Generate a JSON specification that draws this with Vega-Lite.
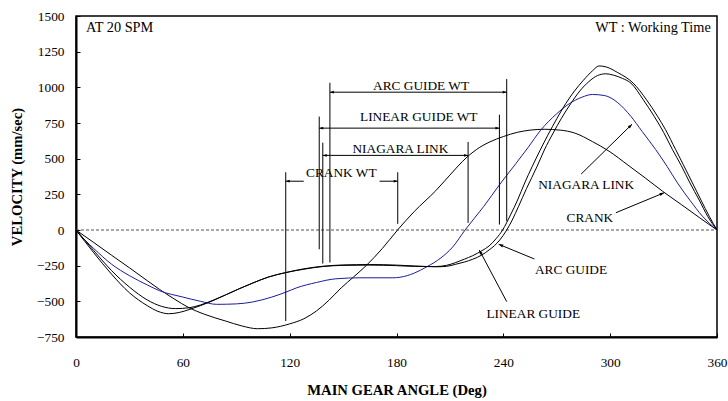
{
  "$schema": "https://vega.github.io/schema/vega-lite/v6.json",
  "width": 641,
  "height": 321,
  "autosize": "none",
  "padding": {"left": 76, "top": 16, "right": 11, "bottom": 64},
  "background": "white",
  "config": {
    "view": {"stroke": "black", "strokeWidth": 1.5},
    "font": "Liberation Serif"
  },
  "datasets": {
    "curves": [
      {"mech":"CRANK","deg":0,"v":0},{"mech":"CRANK","deg":10,"v":-88},{"mech":"CRANK","deg":20,"v":-177},{"mech":"CRANK","deg":30,"v":-265},{"mech":"CRANK","deg":40,"v":-355},{"mech":"CRANK","deg":47,"v":-417},{"mech":"CRANK","deg":55,"v":-482},{"mech":"CRANK","deg":63.5,"v":-545},{"mech":"CRANK","deg":72,"v":-590},{"mech":"CRANK","deg":84,"v":-638},{"mech":"CRANK","deg":93,"v":-672},{"mech":"CRANK","deg":102,"v":-692},{"mech":"CRANK","deg":110,"v":-686},{"mech":"CRANK","deg":120,"v":-658},{"mech":"CRANK","deg":128,"v":-622},{"mech":"CRANK","deg":135,"v":-568},{"mech":"CRANK","deg":142,"v":-493},{"mech":"CRANK","deg":149,"v":-405},{"mech":"CRANK","deg":156,"v":-328},{"mech":"CRANK","deg":163,"v":-249},{"mech":"CRANK","deg":172,"v":-130},{"mech":"CRANK","deg":180.6,"v":0},{"mech":"CRANK","deg":190,"v":130},{"mech":"CRANK","deg":202,"v":275},{"mech":"CRANK","deg":210,"v":385},{"mech":"CRANK","deg":217,"v":480},{"mech":"CRANK","deg":225,"v":565},{"mech":"CRANK","deg":232,"v":615},{"mech":"CRANK","deg":240,"v":655},{"mech":"CRANK","deg":248,"v":685},{"mech":"CRANK","deg":255,"v":700},{"mech":"CRANK","deg":263,"v":706},{"mech":"CRANK","deg":272,"v":700},{"mech":"CRANK","deg":280,"v":680},{"mech":"CRANK","deg":290,"v":620},{"mech":"CRANK","deg":299.4,"v":552},{"mech":"CRANK","deg":310,"v":455},{"mech":"CRANK","deg":320,"v":362},{"mech":"CRANK","deg":329.4,"v":272},{"mech":"CRANK","deg":340,"v":178},{"mech":"CRANK","deg":350,"v":88},{"mech":"CRANK","deg":360,"v":0},
      {"mech":"NIAGARA LINK","deg":0,"v":0},{"mech":"NIAGARA LINK","deg":5,"v":-70},{"mech":"NIAGARA LINK","deg":10,"v":-130},{"mech":"NIAGARA LINK","deg":20,"v":-240},{"mech":"NIAGARA LINK","deg":30,"v":-320},{"mech":"NIAGARA LINK","deg":40,"v":-385},{"mech":"NIAGARA LINK","deg":47,"v":-426},{"mech":"NIAGARA LINK","deg":60,"v":-470},{"mech":"NIAGARA LINK","deg":70,"v":-500},{"mech":"NIAGARA LINK","deg":79,"v":-521},{"mech":"NIAGARA LINK","deg":90,"v":-518},{"mech":"NIAGARA LINK","deg":99,"v":-505},{"mech":"NIAGARA LINK","deg":110,"v":-470},{"mech":"NIAGARA LINK","deg":118,"v":-435},{"mech":"NIAGARA LINK","deg":124,"v":-405},{"mech":"NIAGARA LINK","deg":135,"v":-368},{"mech":"NIAGARA LINK","deg":146,"v":-342},{"mech":"NIAGARA LINK","deg":160,"v":-335},{"mech":"NIAGARA LINK","deg":178,"v":-335},{"mech":"NIAGARA LINK","deg":186,"v":-320},{"mech":"NIAGARA LINK","deg":190,"v":-302},{"mech":"NIAGARA LINK","deg":197,"v":-258},{"mech":"NIAGARA LINK","deg":205,"v":-195},{"mech":"NIAGARA LINK","deg":211.5,"v":-120},{"mech":"NIAGARA LINK","deg":218.5,"v":0},{"mech":"NIAGARA LINK","deg":229,"v":165},{"mech":"NIAGARA LINK","deg":238,"v":320},{"mech":"NIAGARA LINK","deg":247,"v":465},{"mech":"NIAGARA LINK","deg":254,"v":580},{"mech":"NIAGARA LINK","deg":261,"v":700},{"mech":"NIAGARA LINK","deg":270,"v":815},{"mech":"NIAGARA LINK","deg":277,"v":885},{"mech":"NIAGARA LINK","deg":284,"v":930},{"mech":"NIAGARA LINK","deg":290,"v":950},{"mech":"NIAGARA LINK","deg":297,"v":942},{"mech":"NIAGARA LINK","deg":304,"v":895},{"mech":"NIAGARA LINK","deg":311.6,"v":797},{"mech":"NIAGARA LINK","deg":318,"v":690},{"mech":"NIAGARA LINK","deg":325.6,"v":563},{"mech":"NIAGARA LINK","deg":332,"v":445},{"mech":"NIAGARA LINK","deg":337.8,"v":330},{"mech":"NIAGARA LINK","deg":345,"v":205},{"mech":"NIAGARA LINK","deg":351.8,"v":97},{"mech":"NIAGARA LINK","deg":360,"v":0},
      {"mech":"LINEAR GUIDE","deg":0,"v":0},{"mech":"LINEAR GUIDE","deg":10,"v":-160},{"mech":"LINEAR GUIDE","deg":20,"v":-310},{"mech":"LINEAR GUIDE","deg":30,"v":-440},{"mech":"LINEAR GUIDE","deg":40,"v":-530},{"mech":"LINEAR GUIDE","deg":46,"v":-570},{"mech":"LINEAR GUIDE","deg":52,"v":-587},{"mech":"LINEAR GUIDE","deg":58,"v":-578},{"mech":"LINEAR GUIDE","deg":63.5,"v":-558},{"mech":"LINEAR GUIDE","deg":70,"v":-530},{"mech":"LINEAR GUIDE","deg":77,"v":-495},{"mech":"LINEAR GUIDE","deg":84,"v":-455},{"mech":"LINEAR GUIDE","deg":92,"v":-410},{"mech":"LINEAR GUIDE","deg":100,"v":-368},{"mech":"LINEAR GUIDE","deg":108,"v":-330},{"mech":"LINEAR GUIDE","deg":118,"v":-298},{"mech":"LINEAR GUIDE","deg":128,"v":-275},{"mech":"LINEAR GUIDE","deg":138.7,"v":-256},{"mech":"LINEAR GUIDE","deg":150,"v":-248},{"mech":"LINEAR GUIDE","deg":165,"v":-246},{"mech":"LINEAR GUIDE","deg":180,"v":-250},{"mech":"LINEAR GUIDE","deg":190,"v":-255},{"mech":"LINEAR GUIDE","deg":202,"v":-256},{"mech":"LINEAR GUIDE","deg":208,"v":-248},{"mech":"LINEAR GUIDE","deg":213.3,"v":-228},{"mech":"LINEAR GUIDE","deg":218,"v":-205},{"mech":"LINEAR GUIDE","deg":222.8,"v":-180},{"mech":"LINEAR GUIDE","deg":228,"v":-145},{"mech":"LINEAR GUIDE","deg":232,"v":-112},{"mech":"LINEAR GUIDE","deg":236,"v":-60},{"mech":"LINEAR GUIDE","deg":239.6,"v":0},{"mech":"LINEAR GUIDE","deg":244,"v":105},{"mech":"LINEAR GUIDE","deg":248,"v":210},{"mech":"LINEAR GUIDE","deg":252,"v":330},{"mech":"LINEAR GUIDE","deg":256.3,"v":447},{"mech":"LINEAR GUIDE","deg":265,"v":665},{"mech":"LINEAR GUIDE","deg":270,"v":780},{"mech":"LINEAR GUIDE","deg":275,"v":885},{"mech":"LINEAR GUIDE","deg":280,"v":975},{"mech":"LINEAR GUIDE","deg":285,"v":1050},{"mech":"LINEAR GUIDE","deg":290,"v":1115},{"mech":"LINEAR GUIDE","deg":293.8,"v":1150},{"mech":"LINEAR GUIDE","deg":298,"v":1142},{"mech":"LINEAR GUIDE","deg":304,"v":1105},{"mech":"LINEAR GUIDE","deg":312.9,"v":1030},{"mech":"LINEAR GUIDE","deg":320.4,"v":913},{"mech":"LINEAR GUIDE","deg":326.6,"v":797},{"mech":"LINEAR GUIDE","deg":331,"v":705},{"mech":"LINEAR GUIDE","deg":336.8,"v":563},{"mech":"LINEAR GUIDE","deg":341,"v":460},{"mech":"LINEAR GUIDE","deg":346.2,"v":330},{"mech":"LINEAR GUIDE","deg":351,"v":210},{"mech":"LINEAR GUIDE","deg":355.6,"v":97},{"mech":"LINEAR GUIDE","deg":360,"v":0},
      {"mech":"ARC GUIDE","deg":0,"v":0},{"mech":"ARC GUIDE","deg":10,"v":-145},{"mech":"ARC GUIDE","deg":20,"v":-285},{"mech":"ARC GUIDE","deg":30,"v":-400},{"mech":"ARC GUIDE","deg":40,"v":-490},{"mech":"ARC GUIDE","deg":48,"v":-535},{"mech":"ARC GUIDE","deg":56,"v":-551},{"mech":"ARC GUIDE","deg":63.5,"v":-545},{"mech":"ARC GUIDE","deg":70,"v":-525},{"mech":"ARC GUIDE","deg":77,"v":-492},{"mech":"ARC GUIDE","deg":84,"v":-455},{"mech":"ARC GUIDE","deg":92,"v":-410},{"mech":"ARC GUIDE","deg":100,"v":-368},{"mech":"ARC GUIDE","deg":108,"v":-330},{"mech":"ARC GUIDE","deg":118,"v":-298},{"mech":"ARC GUIDE","deg":128,"v":-272},{"mech":"ARC GUIDE","deg":138.7,"v":-254},{"mech":"ARC GUIDE","deg":150,"v":-245},{"mech":"ARC GUIDE","deg":165,"v":-242},{"mech":"ARC GUIDE","deg":180,"v":-246},{"mech":"ARC GUIDE","deg":190,"v":-252},{"mech":"ARC GUIDE","deg":202,"v":-258},{"mech":"ARC GUIDE","deg":208,"v":-255},{"mech":"ARC GUIDE","deg":213.3,"v":-240},{"mech":"ARC GUIDE","deg":218,"v":-225},{"mech":"ARC GUIDE","deg":222.8,"v":-205},{"mech":"ARC GUIDE","deg":228,"v":-175},{"mech":"ARC GUIDE","deg":232,"v":-140},{"mech":"ARC GUIDE","deg":235,"v":-110},{"mech":"ARC GUIDE","deg":238,"v":-70},{"mech":"ARC GUIDE","deg":241.9,"v":0},{"mech":"ARC GUIDE","deg":245,"v":70},{"mech":"ARC GUIDE","deg":248.6,"v":167},{"mech":"ARC GUIDE","deg":253,"v":290},{"mech":"ARC GUIDE","deg":259,"v":447},{"mech":"ARC GUIDE","deg":263,"v":560},{"mech":"ARC GUIDE","deg":268,"v":680},{"mech":"ARC GUIDE","deg":272.5,"v":780},{"mech":"ARC GUIDE","deg":277.8,"v":885},{"mech":"ARC GUIDE","deg":283,"v":975},{"mech":"ARC GUIDE","deg":288,"v":1040},{"mech":"ARC GUIDE","deg":293,"v":1083},{"mech":"ARC GUIDE","deg":297.5,"v":1095},{"mech":"ARC GUIDE","deg":302,"v":1085},{"mech":"ARC GUIDE","deg":307,"v":1062},{"mech":"ARC GUIDE","deg":311.6,"v":1030},{"mech":"ARC GUIDE","deg":318.6,"v":913},{"mech":"ARC GUIDE","deg":324.7,"v":797},{"mech":"ARC GUIDE","deg":330,"v":685},{"mech":"ARC GUIDE","deg":335,"v":563},{"mech":"ARC GUIDE","deg":340,"v":450},{"mech":"ARC GUIDE","deg":344.8,"v":330},{"mech":"ARC GUIDE","deg":350,"v":210},{"mech":"ARC GUIDE","deg":354.7,"v":97},{"mech":"ARC GUIDE","deg":360,"v":0}
    ],
    "verticals": [
      {"deg":117.8,"v":405,"v2":-638},{"deg":180.7,"v":405,"v2":43},{"deg":136.6,"v":795,"v2":-135},{"deg":138.6,"v":612,"v2":-235},{"deg":142.6,"v":1032,"v2":-228},{"deg":220.2,"v":617,"v2":50},{"deg":237.8,"v":808,"v2":38},{"deg":241.9,"v":1058,"v2":62}
    ],
    "spans": [
      {"name":"ARC GUIDE WT","deg":142.6,"deg2":241.9,"v":966},
      {"name":"LINEAR GUIDE WT","deg":136.6,"deg2":237.8,"v":714},
      {"name":"NIAGARA LINK","deg":138.6,"deg2":220.2,"v":523},
      {"name":"CRANK WT","deg":117.8,"deg2":127.9,"v":342},
      {"name":"CRANK WT","deg":170.5,"deg2":180.7,"v":342}
    ],
    "leftHeads": [
      {"deg":142.6,"v":966},{"deg":136.6,"v":714},{"deg":138.6,"v":523},{"deg":117.8,"v":342}
    ],
    "rightHeads": [
      {"deg":241.9,"v":966},{"deg":237.8,"v":714},{"deg":220.2,"v":523},{"deg":180.7,"v":342}
    ],
    "leaders": [
      {"name":"NIAGARA LINK","deg":283.7,"v":392,"deg2":312.3,"v2":742},
      {"name":"CRANK","deg":303.2,"v":121,"deg2":330.3,"v2":261},
      {"name":"ARC GUIDE","deg":257.4,"v":-203,"deg2":237.4,"v2":-100},
      {"name":"LINEAR GUIDE","deg":241.9,"v":-502,"deg2":226.5,"v2":-140}
    ],
    "labels": [
      {"text":"ARC GUIDE WT","deg":193.8,"v":1010},
      {"text":"LINEAR GUIDE WT","deg":192.5,"v":795},
      {"text":"NIAGARA LINK","deg":182.2,"v":568},
      {"text":"CRANK WT","deg":149,"v":400},
      {"text":"NIAGARA LINK","deg":286.5,"v":315},
      {"text":"CRANK","deg":288.6,"v":86},
      {"text":"ARC GUIDE","deg":278,"v":-280},
      {"text":"LINEAR GUIDE","deg":256.8,"v":-590}
    ]
  },
  "encoding": {
    "x": {
      "field": "deg", "type": "quantitative",
      "scale": {"domain": [0, 360], "nice": false, "zero": false},
      "axis": {
        "values": [0, 60, 120, 180, 240, 300, 360], "format": "d",
        "grid": false, "tickSize": -4, "tickColor": "black", "tickWidth": 1,
        "domainColor": "black", "domainWidth": 2,
        "labelFont": "Liberation Serif", "labelFontSize": 13.33, "labelColor": "black",
        "labelPadding": 22, "labelFlush": false, "labelOverlap": false,
        "title": "MAIN GEAR ANGLE (Deg)", "titleFont": "Liberation Serif", "titleFontSize": 14.67,
        "titleFontWeight": "bold", "titleColor": "black", "titlePadding": 14
      }
    },
    "y": {
      "field": "v", "type": "quantitative",
      "scale": {"domain": [-750, 1500], "nice": false, "zero": false},
      "axis": {
        "values": [-750, -500, -250, 0, 250, 500, 750, 1000, 1250, 1500], "format": "d",
        "grid": false, "tickSize": -4, "tickColor": "black", "tickWidth": 1,
        "domainColor": "black", "domainWidth": 2,
        "labelFont": "Liberation Serif", "labelFontSize": 13.33, "labelColor": "black",
        "labelPadding": 16, "labelFlush": false, "labelOverlap": false,
        "title": "VELOCITY (mm/sec)", "titleFont": "Liberation Serif", "titleFontSize": 14.67,
        "titleFontWeight": "bold", "titleColor": "black", "titlePadding": 12
      }
    }
  },
  "layer": [
    {
      "data": {"values": [{"deg": 0, "deg2": 360, "v": 0}]},
      "mark": {"type": "rule", "color": "#555555", "strokeWidth": 1.2, "strokeDash": [3, 2]},
      "encoding": {"x2": {"field": "deg2"}}
    },
    {
      "data": {"name": "curves"},
      "mark": {"type": "line", "strokeWidth": 1, "interpolate": "monotone"},
      "encoding": {
        "color": {"field": "mech", "type": "nominal", "legend": null,
          "scale": {"domain": ["CRANK", "NIAGARA LINK", "LINEAR GUIDE", "ARC GUIDE"], "range": ["#000000", "#1c1c9c", "#000000", "#000000"]}}
      }
    },
    {
      "data": {"name": "verticals"},
      "mark": {"type": "rule", "color": "black", "strokeWidth": 1},
      "encoding": {"y2": {"field": "v2"}}
    },
    {
      "data": {"name": "spans"},
      "mark": {"type": "rule", "color": "black", "strokeWidth": 1},
      "encoding": {"x2": {"field": "deg2"}}
    },
    {
      "data": {"name": "leaders"},
      "mark": {"type": "rule", "color": "black", "strokeWidth": 1},
      "encoding": {"x2": {"field": "deg2"}, "y2": {"field": "v2"}}
    },
    {
      "data": {"name": "rightHeads"},
      "mark": {"type": "point", "filled": true, "color": "black", "opacity": 1, "size": 16, "shape": "M0,0L-2,-0.7L-2,0.7Z", "angle": 0}
    },
    {
      "data": {"name": "leftHeads"},
      "mark": {"type": "point", "filled": true, "color": "black", "opacity": 1, "size": 16, "shape": "M0,0L-2,-0.7L-2,0.7Z", "angle": 180}
    },
    {
      "data": {"name": "leaders"},
      "transform": [{"filter": "datum.name === 'NIAGARA LINK'"}],
      "mark": {"type": "point", "filled": true, "color": "black", "opacity": 1, "size": 20, "shape": "M0,0L-2,-0.7L-2,0.7Z", "angle": -44.4},
      "encoding": {"x": {"field": "deg2", "type": "quantitative"}, "y": {"field": "v2", "type": "quantitative"}}
    },
    {
      "data": {"name": "leaders"},
      "transform": [{"filter": "datum.name === 'CRANK'"}],
      "mark": {"type": "point", "filled": true, "color": "black", "opacity": 1, "size": 20, "shape": "M0,0L-2,-0.7L-2,0.7Z", "angle": -22.5},
      "encoding": {"x": {"field": "deg2", "type": "quantitative"}, "y": {"field": "v2", "type": "quantitative"}}
    },
    {
      "data": {"name": "leaders"},
      "transform": [{"filter": "datum.name === 'ARC GUIDE'"}],
      "mark": {"type": "point", "filled": true, "color": "black", "opacity": 1, "size": 20, "shape": "M0,0L-2,-0.7L-2,0.7Z", "angle": 202.4},
      "encoding": {"x": {"field": "deg2", "type": "quantitative"}, "y": {"field": "v2", "type": "quantitative"}}
    },
    {
      "data": {"name": "leaders"},
      "transform": [{"filter": "datum.name === 'LINEAR GUIDE'"}],
      "mark": {"type": "point", "filled": true, "color": "black", "opacity": 1, "size": 20, "shape": "M0,0L-2,-0.7L-2,0.7Z", "angle": 242.2},
      "encoding": {"x": {"field": "deg2", "type": "quantitative"}, "y": {"field": "v2", "type": "quantitative"}}
    },
    {
      "data": {"name": "labels"},
      "mark": {"type": "text", "font": "Liberation Serif", "fontSize": 13.33, "color": "black", "align": "center", "baseline": "middle"},
      "encoding": {"text": {"field": "text"}}
    },
    {
      "data": {"values": [{"text": "AT 20 SPM", "deg": 5.6, "v": 1413}]},
      "mark": {"type": "text", "font": "Liberation Serif", "fontSize": 14.3, "color": "black", "align": "left", "baseline": "middle"},
      "encoding": {"text": {"field": "text"}}
    },
    {
      "data": {"values": [{"text": "WT : Working Time", "deg": 356.5, "v": 1413}]},
      "mark": {"type": "text", "font": "Liberation Serif", "fontSize": 14.3, "color": "black", "align": "right", "baseline": "middle"},
      "encoding": {"text": {"field": "text"}}
    }
  ]
}
